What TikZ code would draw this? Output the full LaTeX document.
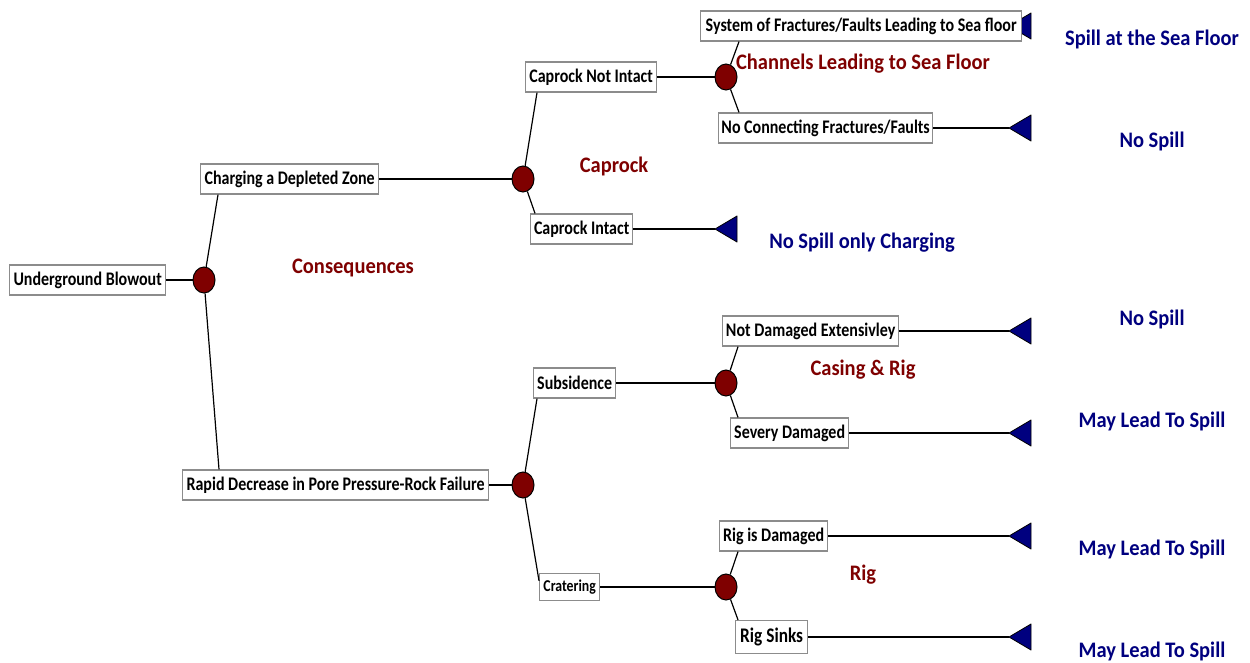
\documentclass[tikz,border=0pt]{standalone}
\usepackage{fontspec}
\usepackage{graphicx}
\setmainfont{Carlito}
\usetikzlibrary{shapes.geometric}
\definecolor{dred}{HTML}{7F0000}
\definecolor{navy}{HTML}{00007F}
\definecolor{boxgray}{HTML}{8C8C8C}
\newcommand\tallbox[1]{\scalebox{1}[1.2]{#1}}
\newcommand\talllbl[1]{\scalebox{1}[1.08]{#1}}
\begin{document}
\begin{tikzpicture}[x=1pt,y=-1pt,
  box/.style={draw=boxgray,line width=1.3pt,fill=white,anchor=west,minimum height=30pt,inner sep=0pt,font=\fontsize{16}{18}\selectfont\bfseries},
  chance/.style={ellipse,draw=black,line width=1pt,fill=dred,minimum width=22pt,minimum height=26pt,inner sep=0pt},
  conn/.style={draw=black,line width=1.2pt},
  term/.style={fill=navy,draw=black,line width=0.8pt,line join=round},
  redlbl/.style={text=dred,font=\fontsize{20.5}{23}\selectfont\bfseries},
  bluelbl/.style={text=navy,font=\fontsize{20.5}{23}\selectfont\bfseries}]
\useasboundingbox (0,0) rectangle (1250,662);
\fill[white] (0,0) rectangle (1250,662);
% triangle hidden behind the System box
\coordinate (t1) at (1009,26);
\path[term] (t1) -- ++(22,-13) -- ++(0,26) -- cycle;
% boxes
\node[box,minimum width=156pt] (ub) at (9,280) {\tallbox{Underground Blowout}};
\node[box,minimum width=178pt] (chg) at (200,179) {\tallbox{Charging a Depleted Zone}};
\node[box,minimum width=306pt] (rd) at (182,485) {\tallbox{Rapid Decrease in Pore Pressure-Rock Failure}};
\node[box,minimum width=131pt] (cni) at (525,77) {\tallbox{Caprock Not Intact}};
\node[box,minimum width=102pt] (ci) at (530,229) {\tallbox{Caprock Intact}};
\node[box,minimum width=321pt] (sys) at (700,26) {\tallbox{System of Fractures/Faults Leading to Sea floor}};
\node[box,minimum width=214pt] (ncf) at (718,128) {\tallbox{No Connecting Fractures/Faults}};
\node[box,minimum width=82pt] (sub) at (533,383) {\tallbox{Subsidence}};
\node[box,minimum width=60pt,minimum height=27pt,font=\fontsize{13.8}{15}\selectfont\bfseries] (cra) at (539,587) {\tallbox{Cratering}};
\node[box,minimum width=176pt] (nde) at (722,331) {\tallbox{Not Damaged Extensivley}};
\node[box,minimum width=118pt] (sd) at (730,433) {\tallbox{Severy Damaged}};
\node[box,minimum width=108pt] (rid) at (719,536) {\tallbox{Rig is Damaged}};
\node[box,minimum width=72pt,minimum height=33pt,font=\fontsize{17.3}{19}\selectfont\bfseries] (rs) at (735,637) {\tallbox{Rig Sinks}};
% chance nodes
\node[chance] (c1) at (204,280) {};
\node[chance] (c2) at (523,179) {};
\node[chance] (c3) at (523,485) {};
\node[chance] (c4) at (726,77) {};
\node[chance] (c5) at (726,383) {};
\node[chance] (c6) at (726,587) {};
% terminal coordinates
\coordinate (t2) at (1009,128);
\coordinate (t3) at (715,229);
\coordinate (t4) at (1009,331);
\coordinate (t5) at (1009,433);
\coordinate (t6) at (1009,536);
\coordinate (t7) at (1009,637);
% connectors
\draw[conn] (ub.east) -- (c1);
\draw[conn] (c1) -- ([xshift=18pt]chg.south west);
\draw[conn] (c1) -- ([xshift=37pt]rd.north west);
\draw[conn] (chg.east) -- (c2);
\draw[conn] (rd.east) -- (c3);
\draw[conn] (c2) -- ([xshift=12pt]cni.south west);
\draw[conn] (c2) -- ([xshift=5pt]ci.north west);
\draw[conn] (cni.east) -- (c4);
\draw[conn] (c4) -- ([xshift=39pt]sys.south west);
\draw[conn] (c4) -- ([xshift=21pt]ncf.north west);
\draw[conn] (c3) -- ([xshift=4pt]sub.south west);
\draw[conn] (c3) -- ([yshift=-8pt]cra.north west);
\draw[conn] (sub.east) -- (c5);
\draw[conn] (cra.east) -- (c6);
\draw[conn] (c5) -- ([xshift=16pt]nde.south west);
\draw[conn] (c5) -- ([xshift=8pt]sd.north west);
\draw[conn] (c6) -- ([xshift=19pt]rid.south west);
\draw[conn] (c6) -- ([xshift=3pt]rs.north west);
\draw[conn] (ncf.east) -- (t2);
\draw[conn] (ci.east) -- (t3);
\draw[conn] (nde.east) -- (t4);
\draw[conn] (sd.east) -- (t5);
\draw[conn] (rid.east) -- (t6);
\draw[conn] (rs.east) -- (t7);
% terminal triangles
\path[term] (t2) -- ++(22,-13) -- ++(0,26) -- cycle;
\path[term] (t3) -- ++(22,-13) -- ++(0,26) -- cycle;
\path[term] (t4) -- ++(22,-13) -- ++(0,26) -- cycle;
\path[term] (t5) -- ++(22,-13) -- ++(0,26) -- cycle;
\path[term] (t6) -- ++(22,-13) -- ++(0,26) -- cycle;
\path[term] (t7) -- ++(22,-13) -- ++(0,26) -- cycle;
% red labels
\node[redlbl] (lcons) at (353,268) {\talllbl{Consequences}};
\node[redlbl] (lcap) at (614,166) {\talllbl{Caprock}};
\node[redlbl] (lchan) at (863,64) {\talllbl{Channels Leading to Sea Floor}};
\node[redlbl] (lcas) at (863,370) {\talllbl{Casing \& Rig}};
\node[redlbl] (lrig) at (863,575) {\talllbl{Rig}};
% blue labels
\node[bluelbl] (o1) at (1152,39) {\talllbl{Spill at the Sea Floor}};
\node[bluelbl] (o2) at (1152,141) {\talllbl{No Spill}};
\node[bluelbl] (o3) at (862,243) {\talllbl{No Spill only Charging}};
\node[bluelbl] (o4) at (1152,319) {\talllbl{No Spill}};
\node[bluelbl] (o5) at (1152,421) {\talllbl{May Lead To Spill}};
\node[bluelbl] (o6) at (1152,549) {\talllbl{May Lead To Spill}};
\node[bluelbl] (o7) at (1152,651) {\talllbl{May Lead To Spill}};
\end{tikzpicture}
\end{document}
